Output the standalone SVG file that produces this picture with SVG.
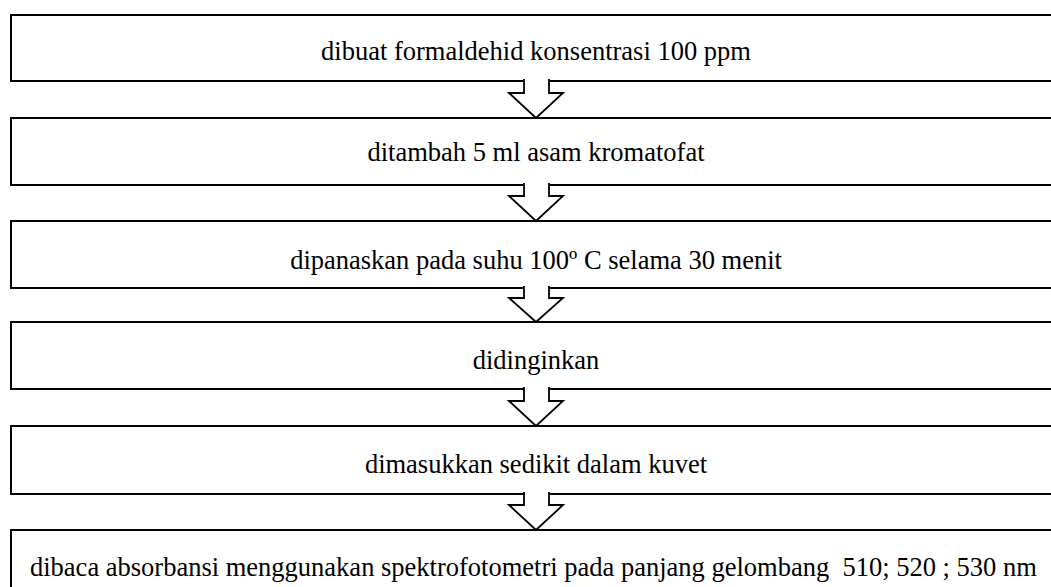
<svg xmlns="http://www.w3.org/2000/svg" width="1051" height="587" viewBox="0 0 1051 587">
<style>
.box{fill:#fff;stroke:#000;stroke-width:2}
.arr{fill:#fff;stroke:#000;stroke-width:1.8;stroke-linejoin:miter}
.t{font-family:"Liberation Serif","Times New Roman",serif;font-size:26.5px;fill:#000;text-anchor:middle}
.t2{font-family:"Liberation Serif","Times New Roman",serif;font-size:26.5px;fill:#000;white-space:pre}
</style>
<rect width="1051" height="587" fill="#fff"/>
<g id="n1"><rect class="box" x="11" y="15" width="1060" height="66"/><text class="t" x="536" y="60">dibuat formaldehid konsentrasi 100 ppm</text></g>
<g id="n2"><rect class="box" x="11" y="118" width="1060" height="67"/><text class="t" x="536" y="161">ditambah 5 ml asam kromatofat</text></g>
<g id="n3"><rect class="box" x="11" y="221" width="1060" height="67"/><text class="t" x="536" y="269">dipanaskan pada suhu 100º C selama 30 menit</text></g>
<g id="n4"><rect class="box" x="11" y="322" width="1060" height="67"/><text class="t" x="536" y="369">didinginkan</text></g>
<g id="n5"><rect class="box" x="11" y="426" width="1060" height="68"/><text class="t" x="536" y="473">dimasukkan sedikit dalam kuvet</text></g>
<g id="n6"><rect class="box" x="11" y="530" width="1060" height="80"/><text class="t2" x="30" y="576" xml:space="preserve">dibaca absorbansi menggunakan spektrofotometri pada panjang gelombang  510; 520 ; 530 nm</text></g>
<g id="connectors">
<path class="arr" d="M524,79 V93 H509 L536,118 L563,93 H549 V79"/>
<path class="arr" d="M524,183 V196 H509 L536,221 L563,196 H549 V183"/>
<path class="arr" d="M524,286 V298 H509 L536,322 L563,298 H549 V286"/>
<path class="arr" d="M524,387 V401 H509 L536,426 L563,401 H549 V387"/>
<path class="arr" d="M524,492 V505 H509 L536,530 L563,505 H549 V492"/>
</g>
</svg>
